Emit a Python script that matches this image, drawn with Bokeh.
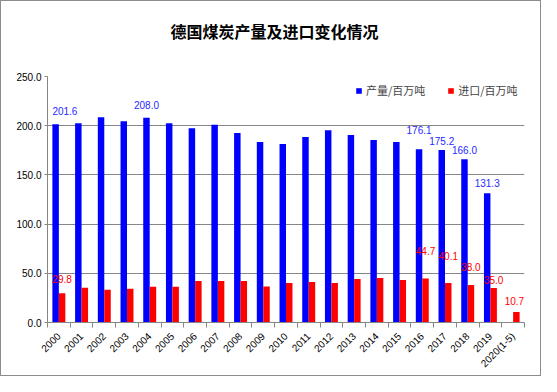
import math
from bokeh.plotting import figure
from bokeh.models import (Range1d, FixedTicker, NumeralTickFormatter, Legend, LegendItem,
                          ColumnDataSource)
from bokeh.core.properties import value
from bokeh.transform import dodge
from bokeh.embed import file_html
from bokeh.resources import INLINE

# ---- data ----
years = ["2000", "2001", "2002", "2003", "2004", "2005", "2006", "2007", "2008", "2009",
         "2010", "2011", "2012", "2013", "2014", "2015", "2016", "2017", "2018", "2019",
         "2020(1-5)"]
production = [201.6, 202.5, 208.5, 204.5, 208.0, 202.5, 197.5, 201.0, 192.5, 183.5,
              181.5, 188.5, 195.5, 190.5, 185.5, 183.5, 176.1, 175.2, 166.0, 131.3,
              float("nan")]
imports = [29.8, 35.3, 33.3, 34.3, 36.3, 36.3, 42.3, 42.3, 42.3, 36.5,
           40.2, 41.2, 40.2, 44.2, 45.2, 43.2, 44.7, 40.1, 38.0, 35.0,
           10.7]
prod_labeled = ["2000", "2004", "2016", "2017", "2018", "2019"]
imp_labeled = ["2000", "2016", "2017", "2018", "2019", "2020(1-5)"]
y_ticks = [0, 50, 100, 150, 200, 250]
series_names = ["产量/百万吨", "进口/百万吨"]
title_text = "德国煤炭产量及进口变化情况"

# ---- style ----
BLUE = "#0000ff"
RED = "#ff0000"
GRID = "#868686"
NUM_FONT = "Liberation Sans"
CJK_FONT = "Noto Sans CJK SC"
prod_label_lift = [13, 13, 19, 9, 9, 10]     # px between bar top and label centre
imp_label_lift = [14, 28, 27, 18, 8, 11]
prod_label_align = ["left", "center", "center", "center", "center", "center"]
imp_label_align = ["center", "center", "center", "center", "center", "right"]

n = len(years)
xs = [i + 0.5 for i in range(n)]
src = ColumnDataSource(dict(x=xs, prod=production, imp=imports))

W, H = 541, 376
p = figure(width=W, height=H, output_backend="svg", toolbar_location=None,
           x_range=Range1d(0, n), y_range=Range1d(0, 250),
           min_border_left=46, min_border_right=18, min_border_top=75, min_border_bottom=55)
p.outline_line_color = None
p.background_fill_color = "white"
p.border_fill_color = "white"
p.styles = {"border": "1px solid #8c8c8c"}

bw = 0.285
r_prod = p.vbar(x=dodge("x", -bw / 2, range=p.x_range), top="prod", width=bw, source=src,
                fill_color=BLUE, line_color=None)
r_imp = p.vbar(x=dodge("x", bw / 2, range=p.x_range), top="imp", width=bw, source=src,
               fill_color=RED, line_color=None)

# data labels
pl_x = [xs[years.index(y)] - bw / 2 - (bw / 2 if a == "left" else 0)
        for y, a in zip(prod_labeled, prod_label_align)]
pl_y = [production[years.index(y)] for y in prod_labeled]
p.text(x=pl_x, y=pl_y, text=["%.1f" % v for v in pl_y], text_align=prod_label_align,
       text_baseline="middle", y_offset=[-d for d in prod_label_lift],
       text_font=value(NUM_FONT), text_font_size="10px", text_color="#2828ff")
il_x = [xs[years.index(y)] + bw / 2 + (bw / 2 + 0.2 if a == "right" else 0)
        for y, a in zip(imp_labeled, imp_label_align)]
il_y = [imports[years.index(y)] for y in imp_labeled]
p.text(x=il_x, y=il_y, text=["%.1f" % v for v in il_y], text_align=imp_label_align,
       text_baseline="middle", y_offset=[-d for d in imp_label_lift],
       text_font=value(NUM_FONT), text_font_size="10px", text_color=RED)

# axes
p.xgrid.grid_line_color = None
p.ygrid.grid_line_color = GRID
p.ygrid.ticker = FixedTicker(ticks=y_ticks)

p.yaxis.ticker = FixedTicker(ticks=y_ticks)
p.yaxis.formatter = NumeralTickFormatter(format="0.0")
p.yaxis.axis_line_color = GRID
p.yaxis.major_tick_line_color = GRID
p.yaxis.major_tick_out = 3
p.yaxis.major_tick_in = 0
p.yaxis.minor_tick_line_color = None
p.yaxis.major_label_text_font = NUM_FONT
p.yaxis.major_label_text_font_size = "10px"
p.yaxis.major_label_text_color = "black"
p.yaxis.major_label_standoff = 3

p.xaxis.ticker = FixedTicker(ticks=xs, minor_ticks=list(range(n + 1)))
p.xaxis.major_label_overrides = {x: y for x, y in zip(xs, years)}
p.xaxis.axis_line_color = GRID
p.xaxis.major_tick_line_color = None
p.xaxis.minor_tick_line_color = GRID
p.xaxis.minor_tick_out = 5
p.xaxis.minor_tick_in = 0
p.xaxis.major_label_orientation = math.pi / 4
p.xaxis.major_label_text_font = NUM_FONT
p.xaxis.major_label_text_font_size = "10px"
p.xaxis.major_label_text_color = "black"
p.xaxis.major_label_standoff = 6

# legend
legend = Legend(items=[LegendItem(label=series_names[0], renderers=[r_prod]),
                       LegendItem(label=series_names[1], renderers=[r_imp])],
                orientation="horizontal", location=(308, 224))
legend.border_line_color = None
legend.background_fill_alpha = 0
legend.padding = 0
legend.margin = 0
legend.spacing = 22
legend.label_standoff = 4
legend.glyph_width = 7
legend.glyph_height = 7
legend.label_text_font = CJK_FONT
legend.label_text_font_size = "11px"
legend.label_height = 14
p.add_layout(legend)

# title (a trailing empty line gives the title box the extra height that
# lifts the text to where the reference has it)
p.title.text = title_text + "\n "
p.title.align = "left"
p.title.offset = 123
p.title.vertical_align = "bottom"
p.title.standoff = 20
p.title.text_font = CJK_FONT
p.title.text_font_size = "16px"
p.title.text_font_style = "bold"
p.title.text_color = "black"

open("out.html", "w").write(file_html(p, INLINE))
